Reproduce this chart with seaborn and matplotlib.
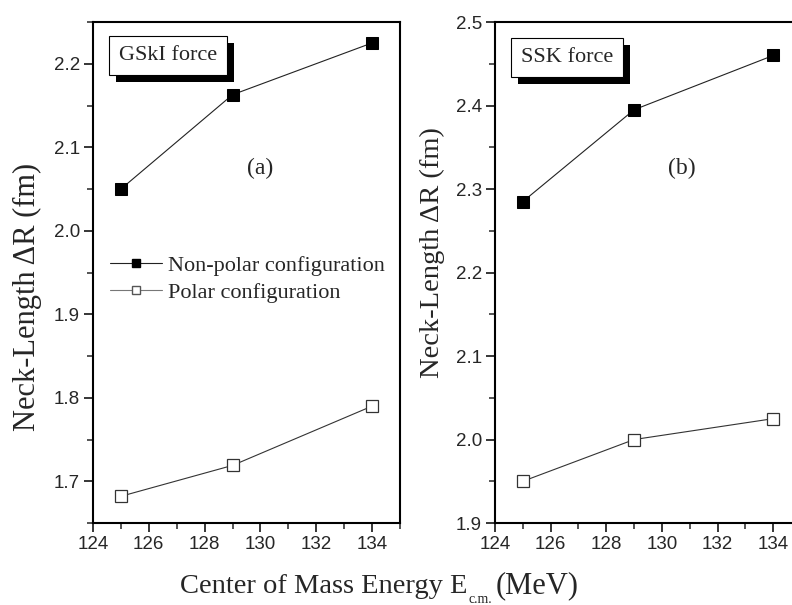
import numpy as np
import pandas as pd
import matplotlib
matplotlib.use("Agg")
import matplotlib.pyplot as plt
import matplotlib.patheffects as pe
from matplotlib.lines import Line2D
from matplotlib.ticker import MultipleLocator
import seaborn as sns

sns.set_style("white")
plt.rcParams['font.family'] = ['Liberation Sans', 'DejaVu Sans']

# Data
energy = [125, 129, 134]
gski_nonpolar = [2.050, 2.163, 2.225]
gski_polar = [1.682, 1.719, 1.790]
ssk_nonpolar = [2.285, 2.395, 2.460]
ssk_polar = [1.950, 2.000, 2.025]

SERIF = ['Liberation Serif', 'DejaVu Serif']

fig = plt.figure(figsize=(7.92, 6.05), dpi=100)
ax_a = fig.add_axes([0.1174, 0.1355, 0.3876, 0.828])
ax_b = fig.add_axes([0.625, 0.1355, 0.3864, 0.828])


def draw(ax, nonpolar, polar, ylim, force, box_y, tag, tag_x, ylab_y, ylab_size):
    df = pd.DataFrame({'E': energy, 'np': nonpolar, 'p': polar})
    sns.lineplot(data=df, x='E', y='np', ax=ax, color='#222222', lw=0.8,
                 marker='s', markersize=8.5, markerfacecolor='black',
                 markeredgecolor='black', legend=False)
    sns.lineplot(data=df, x='E', y='p', ax=ax, color='#333333', lw=0.8,
                 marker='s', markersize=8.5, markerfacecolor='white',
                 markeredgecolor='#333333', markeredgewidth=0.9, legend=False)
    ax.set_xlim(124, 135)
    ax.set_ylim(*ylim)
    ax.xaxis.set_major_locator(MultipleLocator(2))
    ax.xaxis.set_minor_locator(MultipleLocator(1))
    ax.yaxis.set_major_locator(MultipleLocator(0.1))
    ax.yaxis.set_minor_locator(MultipleLocator(0.05))
    ax.tick_params(which='major', direction='out', length=6.5, width=1.3,
                   labelsize=13.5, pad=3, bottom=True, left=True, top=False, right=False)
    ax.tick_params(which='minor', direction='out', length=4.5, width=1.1,
                   bottom=True, left=True, top=False, right=False)
    for sp in ax.spines.values():
        sp.set_linewidth(1.5)
        sp.set_color('black')
    ax.set_xlabel('')
    ax.set_ylabel('Neck-Length \u0394R (fm)', family=SERIF, fontsize=ylab_size)
    ax.yaxis.set_label_coords(-0.165, ylab_y)
    t = ax.text(0.085, box_y, force, transform=ax.transAxes, family=SERIF,
                fontsize=16, va='center', ha='left',
                bbox=dict(boxstyle='square,pad=0.45', fc='white', ec='black', lw=0.8))
    t.get_bbox_patch().set_path_effects([
        pe.SimplePatchShadow(offset=(5, -5), shadow_rgbFace='black', alpha=1.0),
        pe.Normal()])
    ax.text(tag_x, 0.707, tag, transform=ax.transAxes, family=SERIF,
            fontsize=17, ha='center', va='center')


draw(ax_a, gski_nonpolar, gski_polar, (1.65, 2.25), 'GSkI force', 0.934,
     '(a)', 0.544, 0.451, 22)
draw(ax_b, ssk_nonpolar, ssk_polar, (1.9, 2.5), 'SSK force', 0.930,
     '(b)', 0.611, 0.54, 20.5)

handles = [
    Line2D([], [], color='#222222', lw=0.8, marker='s', markersize=6,
           markerfacecolor='black', markeredgecolor='black'),
    Line2D([], [], color='#777777', lw=0.8, marker='s', markersize=6,
           markerfacecolor='white', markeredgecolor='#555555'),
]
ax_a.legend(handles, ['Non-polar configuration', 'Polar configuration'],
            loc='center left', bbox_to_anchor=(0.055, 0.487), frameon=False,
            prop={'family': SERIF, 'size': 16}, handlelength=2.35,
            handletextpad=0.27, labelspacing=0.3, borderaxespad=0, borderpad=0)

# x label with a small, low subscript
fig.text(467 / 792, 12 / 605, 'Center of Mass Energy E', family=SERIF,
         fontsize=20.5, ha='right', va='baseline')
fig.text(469 / 792, 2 / 605, 'c.m.', family=SERIF,
         fontsize=10, ha='left', va='baseline')
fig.text(496 / 792, 12 / 605, '(MeV)', family=SERIF,
         fontsize=22, ha='left', va='baseline')

fig.savefig('out.png', dpi=100)
